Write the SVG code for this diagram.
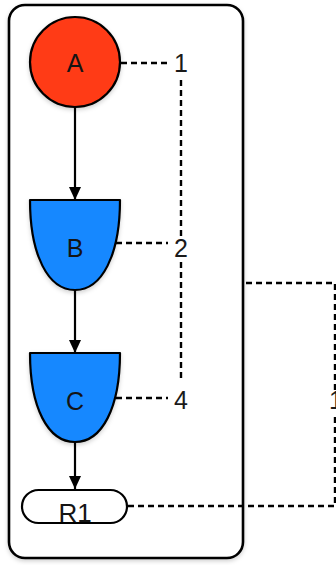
<svg xmlns="http://www.w3.org/2000/svg" width="336" height="565" viewBox="0 0 336 565">
  <defs>
    <filter id="shadow" x="-20%" y="-20%" width="140%" height="140%">
      <feDropShadow dx="0" dy="2" stdDeviation="2" flood-color="#000" flood-opacity="0.18"/>
    </filter>
    <marker id="arrow" markerWidth="12" markerHeight="14" refX="13" refY="7" orient="auto" markerUnits="userSpaceOnUse">
      <path d="M0,1 L13,7 L0,13 Z" fill="#000"/>
    </marker>
    <style>
      .label { font-family: "Liberation Sans", Arial, sans-serif; font-size: 25px; fill: #1a1a1a; text-anchor: middle; }
      .name { font-family: "Liberation Sans", Arial, sans-serif; font-size: 25px; fill: #141414; text-anchor: middle; }
      .edge { fill: none; stroke: #000; stroke-width: 2.2; }
      .dash { fill: none; stroke: #000; stroke-width: 2.4; stroke-dasharray: 6 4; }
      .outline { stroke: #000; stroke-width: 2.2; }
    </style>
  </defs>

  <!-- enclosing group box -->
  <g id="group">
    <rect x="9" y="5" width="234" height="553" rx="16" ry="16" fill="#fff" stroke="#000" stroke-width="2.6" filter="url(#shadow)"/>
  </g>

  <!-- connectors -->
  <g id="connectors">
    <line class="edge" x1="75" y1="107" x2="75" y2="200" marker-end="url(#arrow)"/>
    <line class="edge" x1="75" y1="290" x2="75" y2="353" marker-end="url(#arrow)"/>
    <line class="edge" x1="75" y1="442" x2="75" y2="489" marker-end="url(#arrow)"/>

    <!-- dashed references to labels -->
    <line class="dash" x1="121" y1="63" x2="168" y2="63"/>
    <line class="dash" x1="116" y1="243" x2="168" y2="243"/>
    <line class="dash" x1="116" y1="398" x2="168" y2="398"/>
    <line class="dash" x1="181" y1="80" x2="181" y2="236"/>
    <line class="dash" x1="181" y1="262" x2="181" y2="382"/>

    <!-- R1 to group link -->
    <path class="dash" d="M128,506 H335 V414"/>
    <path class="dash" d="M335,390 V283 H244"/>
  </g>

  <g id="label-1">
    <text class="label" x="181" y="72">1</text>
  </g>
  <g id="label-2">
    <text class="label" x="181" y="257">2</text>
  </g>
  <g id="label-4">
    <text class="label" x="181" y="409">4</text>
  </g>
  <g id="label-1b">
    <text class="label" x="336" y="409">1</text>
  </g>

  <g id="node-A">
    <circle cx="75" cy="62" r="45" fill="#ff3a17" class="outline" filter="url(#shadow)"/>
    <text class="name" x="75" y="72">A</text>
  </g>

  <g id="node-B">
    <path d="M30,200 H120 C120,255 102,290 75,290 C48,290 30,255 30,200 Z" fill="#1388ff" class="outline" stroke-linejoin="round" filter="url(#shadow)"/>
    <text class="name" x="75" y="257">B</text>
  </g>

  <g id="node-C">
    <path d="M30,353 H120 C120,408 102,442 75,442 C48,442 30,408 30,353 Z" fill="#1388ff" class="outline" stroke-linejoin="round" filter="url(#shadow)"/>
    <text class="name" x="75" y="410">C</text>
  </g>

  <g id="node-R1">
    <rect x="22" y="490" width="105" height="33" rx="16.5" ry="16.5" fill="#fff" class="outline"/>
    <text class="name" x="75" y="522" style="font-size:26px">R1</text>
  </g>
</svg>
